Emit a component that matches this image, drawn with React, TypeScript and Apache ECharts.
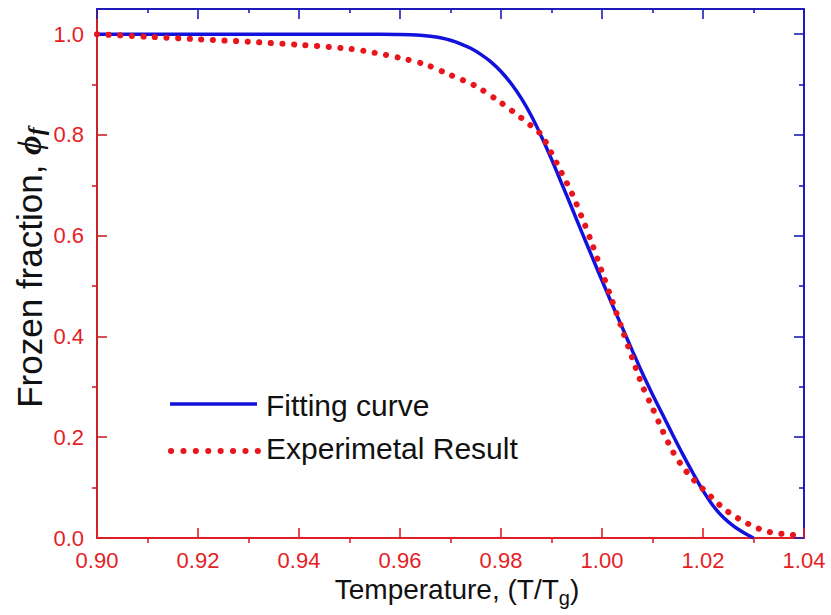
import React, { useEffect, useRef } from 'react';
import * as echarts from 'echarts';

// Fitting curve (blue solid)
const fitX = [0.900, 0.920, 0.940, 0.950, 0.956, 0.960, 0.962, 0.964, 0.966, 0.968, 0.970, 0.972, 0.974, 0.976, 0.978, 0.980, 0.982, 0.984, 0.986, 0.988, 0.990, 0.992, 0.994, 0.996, 0.998, 1.000, 1.002, 1.004, 1.006, 1.008, 1.010, 1.012, 1.014, 1.016, 1.018, 1.020, 1.022, 1.024, 1.026, 1.028, 1.030];
const fitY = [1.000, 1.000, 1.000, 1.000, 1.000, 0.9995, 0.999, 0.998, 0.996, 0.993, 0.988, 0.981, 0.972, 0.960, 0.945, 0.926, 0.902, 0.873, 0.838, 0.797, 0.752, 0.704, 0.656, 0.607, 0.559, 0.511, 0.464, 0.418, 0.372, 0.327, 0.285, 0.245, 0.205, 0.166, 0.129, 0.094, 0.064, 0.041, 0.024, 0.011, 0.000];

// Experimental result (red dotted)
const expX = [0.900, 0.910, 0.920, 0.930, 0.940, 0.950, 0.955, 0.960, 0.965, 0.970, 0.975, 0.980, 0.984, 0.986, 0.988, 0.990, 0.992, 0.994, 0.996, 0.998, 1.000, 1.002, 1.004, 1.006, 1.008, 1.010, 1.012, 1.014, 1.016, 1.018, 1.020, 1.022, 1.024, 1.026, 1.028, 1.030, 1.032, 1.034, 1.036, 1.038, 1.040];
const expY = [1.000, 0.995, 0.990, 0.985, 0.979, 0.971, 0.963, 0.953, 0.940, 0.919, 0.897, 0.864, 0.834, 0.818, 0.800, 0.764, 0.725, 0.685, 0.637, 0.585, 0.528, 0.471, 0.414, 0.357, 0.302, 0.258, 0.213, 0.172, 0.141, 0.117, 0.097, 0.078, 0.059, 0.045, 0.033, 0.023, 0.015, 0.010, 0.008, 0.006, 0.005];

// Ticks
const xMajor = [0.90, 0.92, 0.94, 0.96, 0.98, 1.00, 1.02, 1.04];
const xMinor = [0.91, 0.93, 0.95, 0.97, 0.99, 1.01, 1.03];
const yMajor = [0.0, 0.2, 0.4, 0.6, 0.8, 1.0];
const yMinor = [0.1, 0.3, 0.5, 0.7, 0.9];

const legendNames = ['Fitting curve', 'Experimetal Result'];

const SANS = "'Liberation Sans', Arial, Helvetica, sans-serif";
const SERIF = "'Liberation Serif', 'Times New Roman', serif";
const RED = '#e41e26';
const RED_AXIS = '#cc2229';
const BLUE_AXIS = '#1c1cb8';
const BLUE_LINE = '#1212dc';
const RED_DOT = '#e8151d';

const X_MIN = 0.9, X_MAX = 1.04, Y_MIN = 0, Y_MAX = 1.05;

function xAxisDef(position: 'top' | 'bottom', color: string, ticks: number[], len: number, inside: boolean, showLine: boolean, label: boolean, extra: any = {}) {
  return {
    type: 'value', min: X_MIN, max: X_MAX, position,
    axisLine: { show: showLine, onZero: false, lineStyle: { color, width: 2 } },
    axisTick: { show: true, inside, length: len, customValues: ticks, lineStyle: { color, width: 1.6 } },
    axisLabel: label
      ? { show: true, customValues: xMajor, margin: 11, color: RED, fontSize: 22, fontFamily: SANS, formatter: (v: number) => v.toFixed(2) }
      : { show: false },
    splitLine: { show: false },
    minorTick: { show: false },
    ...extra,
  };
}

function yAxisDef(position: 'left' | 'right', color: string, ticks: number[], len: number, inside: boolean, showLine: boolean, label: boolean, extra: any = {}) {
  return {
    type: 'value', min: Y_MIN, max: Y_MAX, position,
    axisLine: { show: showLine, onZero: false, lineStyle: { color, width: 2 } },
    axisTick: { show: true, inside, length: len, customValues: ticks, lineStyle: { color, width: 1.6 } },
    axisLabel: label
      ? { show: true, customValues: yMajor, margin: 13, color: RED, fontSize: 22, fontFamily: SANS, formatter: (v: number) => v.toFixed(1) }
      : { show: false },
    splitLine: { show: false },
    minorTick: { show: false },
    ...extra,
  };
}

export default function App() {
  const ref = useRef<HTMLDivElement>(null);
  useEffect(() => {
    const chart = echarts.init(ref.current!, null, { renderer: 'svg' });
    const option: any = {
      animation: false,
      backgroundColor: '#ffffff',
      grid: { left: 97, right: 27, top: 9, bottom: 77, outerBoundsMode: 'none' },
      xAxis: [
        xAxisDef('bottom', RED, xMajor, 10, true, true, true, {
          name: '{a|Temperature, (T/T}{s|g}{a|)}',
          nameLocation: 'middle',
          nameGap: 28,
          nameTextStyle: {
            padding: [0, 0, 0, 13],
            rich: {
              a: { fontSize: 28, fontFamily: SANS, color: '#111111' },
              s: { fontSize: 20, fontFamily: SANS, color: '#111111', padding: [16, 0, 0, 0] },
            },
          },
        }),
        xAxisDef('bottom', RED, xMinor, 5, false, false, false),
        xAxisDef('top', BLUE_AXIS, xMajor, 10, true, true, false),
        xAxisDef('top', BLUE_AXIS, xMinor, 4, true, false, false),
      ],
      yAxis: [
        yAxisDef('left', RED_AXIS, yMajor, 10, true, true, true, {
          name: '{a|Frozen fraction, }{b|\u03D5}{c|f}',
          nameLocation: 'middle',
          nameRotate: 90,
          nameGap: 49,
          nameMoveOverlap: false,
          nameTextStyle: {
            padding: [0, 0, 0, 12],
            rich: {
              a: { fontSize: 35, fontFamily: SANS, color: '#111111' },
              b: { fontSize: 34, fontFamily: SERIF, fontStyle: 'italic', fontWeight: 'bold', color: '#111111' },
              c: { fontSize: 24, fontFamily: SERIF, fontStyle: 'italic', fontWeight: 'bold', color: '#111111', padding: [14, 0, 0, 0] },
            },
          },
        }),
        yAxisDef('left', RED_AXIS, yMinor, 5, false, false, false),
        yAxisDef('right', BLUE_AXIS, yMajor, 10, true, true, false),
        yAxisDef('right', BLUE_AXIS, yMinor, 5, true, false, false),
      ],
      series: [
        {
          name: legendNames[0],
          type: 'line',
          xAxisIndex: 0,
          yAxisIndex: 0,
          data: fitX.map((x, i) => [x, fitY[i]]),
          symbol: 'none',
          smooth: 0.3,
          lineStyle: { color: BLUE_LINE, width: 3.5 },
          z: 3,
        },
        {
          name: legendNames[1],
          type: 'line',
          xAxisIndex: 0,
          yAxisIndex: 0,
          data: expX.map((x, i) => [x, expY[i]]),
          symbol: 'none',
          smooth: 0.3,
          lineStyle: { color: RED_DOT, width: 6, type: [0.1, 11.5], cap: 'round' },
          z: 4,
        },
      ],
      graphic: [
        { type: 'line', shape: { x1: 170, y1: 404, x2: 257, y2: 404 }, style: { stroke: BLUE_LINE, lineWidth: 3.5 } },
        { type: 'text', x: 266, y: 405, style: { text: legendNames[0], font: `30px ${SANS}`, fill: '#111111', textAlign: 'left', textVerticalAlign: 'middle', align: 'left', verticalAlign: 'middle' } },
        { type: 'line', shape: { x1: 171, y1: 451, x2: 258, y2: 451 }, style: { stroke: RED_DOT, lineWidth: 6, lineDash: [0.1, 12.3], lineCap: 'round' } },
        { type: 'text', x: 266, y: 448, style: { text: legendNames[1], font: `30px ${SANS}`, fill: '#111111', textAlign: 'left', textVerticalAlign: 'middle', align: 'left', verticalAlign: 'middle' } },
      ],
    };
    chart.setOption(option);
    return () => chart.dispose();
  }, []);
  return <div ref={ref} style={{ position: 'fixed', left: 0, top: 0, width: 831, height: 615, background: '#fff' }} />;
}
